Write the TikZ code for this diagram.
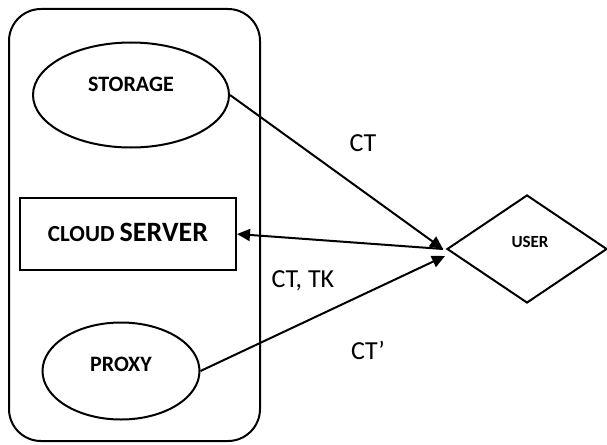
\documentclass[tikz,border=0pt]{standalone}
\usepackage{fontspec}
\setmainfont{Carlito}
\usetikzlibrary{shapes.geometric,arrows.meta}
\begin{document}
\begin{tikzpicture}[x=1pt,y=-1pt,
  line width=2pt,
  shp/.style={draw,inner sep=0pt},
  lbl/.style={font=\fontsize{26}{28}\selectfont},
  arr/.style={-{Triangle[length=13pt,width=12pt]}}]
\useasboundingbox (0,0) rectangle (607,444);
\draw[rounded corners=32pt] (9,9) rectangle (260,441);
\node[shp,ellipse,minimum width=196pt,minimum height=105pt] (storage) at (131,95) {};
\node[font=\bfseries\fontsize{22}{24}\selectfont] (storaget) at (131,84) {STORAGE};
\node[shp,rectangle,minimum width=216pt,minimum height=72pt] (cloud) at (128,234) {};
\node (cloudt) at (128,232) {\bfseries\fontsize{23}{25}\selectfont CLOUD \fontsize{28}{30}\selectfont SERVER};
\node[shp,ellipse,minimum width=157pt,minimum height=97pt] (proxy) at (121,371) {};
\node[font=\bfseries\fontsize{22}{24}\selectfont] (proxyt) at (121,364) {PROXY};
\node[shp,diamond,minimum width=160pt,minimum height=108pt] (user) at (527,249) {};
\node[font=\bfseries\fontsize{17}{19}\selectfont] (usert) at (530,242) {USER};
\coordinate (uin) at (443,249);
\coordinate (uin2) at (445,256);
\draw[arr] (storage.east) -- (uin);
\draw[arr] (uin) -- (cloud.east);
\draw[arr] (proxy.east) -- (uin2);
\node[lbl] (ct) at (363,143) {CT};
\node[lbl] (ctk) at (303,281) {CT, TK};
\node[lbl] (ctp) at (368,350) {CT’};
\end{tikzpicture}
\end{document}
